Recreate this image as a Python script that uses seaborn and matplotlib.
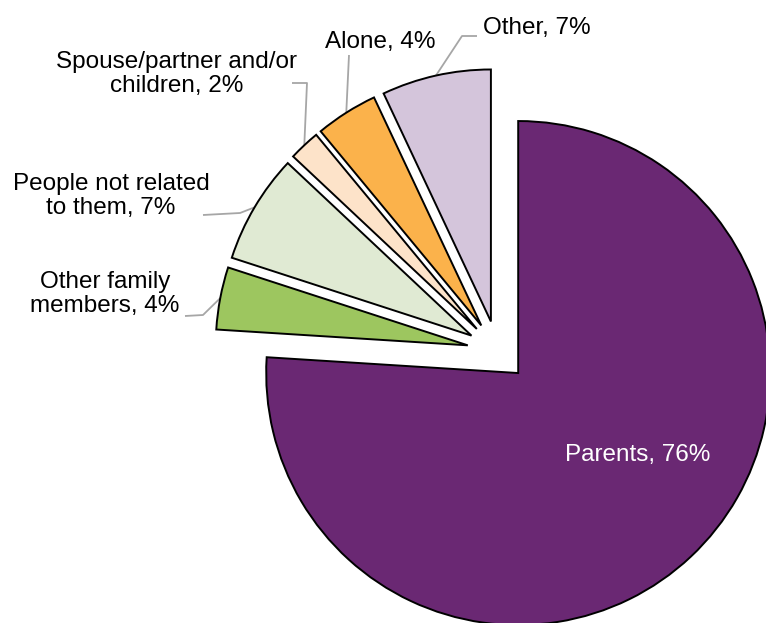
import numpy as np
import matplotlib
matplotlib.use("Agg")
import matplotlib.pyplot as plt
import seaborn as sns

# Living arrangements shares (%)
categories = ["Parents", "Other family members", "People not related to them",
              "Spouse/partner and/or children", "Alone", "Other"]
shares = [76, 4, 7, 2, 4, 7]
label_texts = ["Parents, 76%", "Other family\nmembers, 4%", "People not related\nto them, 7%",
               "Spouse/partner and/or\nchildren, 2%", "Alone, 4%", "Other, 7%"]
colors = ["#6A2873", "#9DC65F", "#E0EAD3", "#FDE3C9", "#FBB24B", "#D4C5DB"]

sns.set_theme(style="white")
plt.rcParams["font.family"] = ["Liberation Sans", "DejaVu Sans"]

W, H = 766, 623
fig = plt.figure(figsize=(W / 100, H / 100), dpi=100)
ax = fig.add_axes([0, 0, 1, 1])
ax.set_xlim(0, W)
ax.set_ylim(0, H)
ax.axis("off")


def img(x, y):
    """Convert top-left based pixel position to axes data coordinates."""
    return x, H - y


cx, cy = img(497.5, 351)
radius = 252
explode_frac = 0.12
# pie() offsets exploded wedges in data units, so scale by the radius
wedges, _ = ax.pie(shares, colors=colors, startangle=90, counterclock=False,
                   center=(cx, cy), radius=radius,
                   explode=[explode_frac * radius] * len(shares),
                   wedgeprops=dict(edgecolor="black", linewidth=1.4))
ax.set_xlim(0, W)
ax.set_ylim(0, H)
ax.set_aspect("equal")

# Parents label inside its slice
ax.text(*img(638, 455), label_texts[0], color="white", fontsize=17.5,
        ha="center", va="center")

# Outside labels: text centre and leader-line bend points (top-left pixel coords)
outside = {
    1: dict(text=(105, 294), path=[(203, 315), (185, 316)]),
    2: dict(text=(111, 196), path=[(240, 213), (203, 215)]),
    3: dict(text=(177, 74), path=[(307, 83), (292, 83)]),
    4: dict(text=(380, 42), path=[(349, 55)]),
    5: dict(text=(537, 28), path=[(462, 36), (477, 36)]),
}
for i, spec in outside.items():
    w = wedges[i]
    mid = np.deg2rad((w.theta1 + w.theta2) / 2)
    wx, wy = w.center
    ax_pt = (wx + w.r * np.cos(mid), wy + w.r * np.sin(mid))
    pts = [ax_pt] + [img(*p) for p in spec["path"]]
    xs, ys = zip(*pts)
    ax.plot(xs, ys, color="#A6A6A6", linewidth=1.3, solid_capstyle="butt", zorder=0)
    ax.text(*img(*spec["text"]), label_texts[i], color="black", fontsize=17.5,
            ha="center", va="center", multialignment="center", linespacing=1.1)

fig.savefig("out.png", dpi=100, facecolor="white")
